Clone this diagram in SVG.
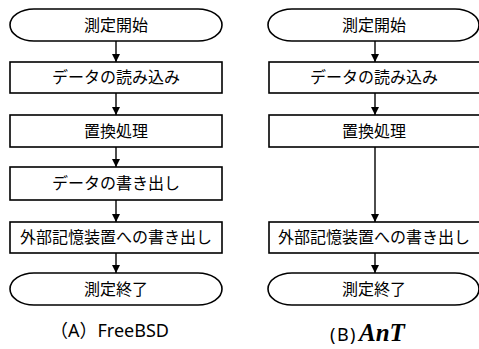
<svg xmlns="http://www.w3.org/2000/svg" width="479" height="349" viewBox="0 0 479 349">
<defs>
<style>
.s{fill:#fff;stroke:#000;stroke-width:1.6}
.t{font-family:"Noto Sans CJK JP","Noto Sans",sans-serif;font-size:16px;text-anchor:middle;fill:#000}
.c{stroke:#000;stroke-width:1.4;fill:none}
.cap{font-family:"Noto Sans","Noto Sans CJK JP",sans-serif;font-size:18px;fill:#000}
</style>
<marker id="ah" viewBox="0 0 10 10" refX="10" refY="5" markerWidth="8" markerHeight="8" markerUnits="userSpaceOnUse" orient="auto">
<path d="M0,0 L10,5 L0,10 Z" fill="#000"/>
</marker>
</defs>
<rect width="479" height="349" fill="#fff"/>
<g id="connectors">
<line class="c" x1="116" y1="41" x2="116" y2="62" marker-end="url(#ah)"/>
<line class="c" x1="116" y1="93" x2="116" y2="115" marker-end="url(#ah)"/>
<line class="c" x1="116" y1="147" x2="116" y2="167" marker-end="url(#ah)"/>
<line class="c" x1="116" y1="200" x2="116" y2="222" marker-end="url(#ah)"/>
<line class="c" x1="116" y1="253" x2="116" y2="273" marker-end="url(#ah)"/>
<line class="c" x1="375" y1="41" x2="375" y2="62" marker-end="url(#ah)"/>
<line class="c" x1="375" y1="93" x2="375" y2="115" marker-end="url(#ah)"/>
<line class="c" x1="375" y1="147" x2="375" y2="222" marker-end="url(#ah)"/>
<line class="c" x1="375" y1="253" x2="375" y2="273" marker-end="url(#ah)"/>
</g>
<g id="a-start"><path class="s" d="M34,9 H198 A24,16 0 0 1 198,41 H34 A24,16 0 0 1 34,9 Z"/><text class="t" x="116" y="31">測定開始</text></g>
<g id="a-read"><rect class="s" x="10" y="62" width="212" height="31"/><text class="t" x="116" y="83">データの読み込み</text></g>
<g id="a-replace"><rect class="s" x="10" y="115" width="212" height="32"/><text class="t" x="116" y="137">置換処理</text></g>
<g id="a-write"><rect class="s" x="10" y="167" width="212" height="33"/><text class="t" x="116" y="189">データの書き出し</text></g>
<g id="a-ext"><rect class="s" x="10" y="222" width="212" height="31"/><text class="t" x="116" y="243">外部記憶装置への書き出し</text></g>
<g id="a-end"><path class="s" d="M34,273 H198 A24,16 0 0 1 198,305 H34 A24,16 0 0 1 34,273 Z"/><text class="t" x="116" y="295">測定終了</text></g>
<g id="b-start"><path class="s" d="M292,9 H455 A24,16 0 0 1 455,41 H292 A24,16 0 0 1 292,9 Z"/><text class="t" x="374" y="31">測定開始</text></g>
<g id="b-read"><rect class="s" x="269" y="62" width="212" height="31"/><text class="t" x="374" y="83">データの読み込み</text></g>
<g id="b-replace"><rect class="s" x="269" y="115" width="212" height="32"/><text class="t" x="374" y="137">置換処理</text></g>
<g id="b-ext"><rect class="s" x="269" y="222" width="212" height="31"/><text class="t" x="374" y="243">外部記憶装置への書き出し</text></g>
<g id="b-end"><path class="s" d="M292,273 H455 A24,16 0 0 1 455,305 H292 A24,16 0 0 1 292,273 Z"/><text class="t" x="374" y="295">測定終了</text></g>
<text class="cap" x="50" y="337">（A）FreeBSD</text>
<text class="cap" x="330" y="341" letter-spacing="1.5">(B)<tspan letter-spacing="0" dx="2" font-family="'Liberation Serif',serif" font-weight="bold" font-style="italic" font-size="25">AnT</tspan></text>
</svg>
